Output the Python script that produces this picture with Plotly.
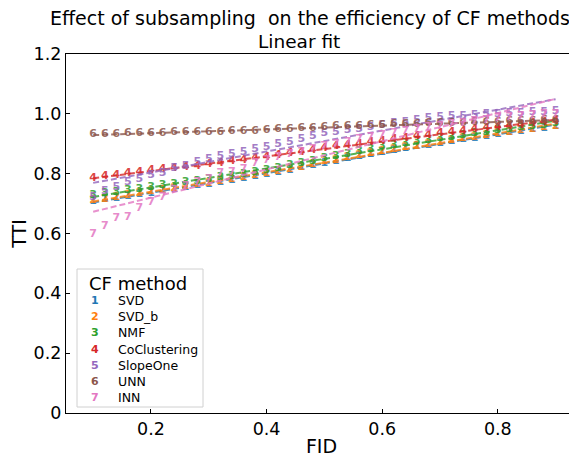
import numpy as np
import plotly.graph_objects as go

FID = [0.10, 0.12, 0.14, 0.16, 0.18, 0.20, 0.22, 0.24, 0.26, 0.28,
       0.30, 0.32, 0.34, 0.36, 0.38, 0.40, 0.42, 0.44, 0.46, 0.48,
       0.50, 0.52, 0.54, 0.56, 0.58, 0.60, 0.62, 0.64, 0.66, 0.68,
       0.70, 0.72, 0.74, 0.76, 0.78, 0.80, 0.82, 0.84, 0.86, 0.88, 0.90]

methods = ["SVD", "SVD_b", "NMF", "CoClustering", "SlopeOne", "UNN", "INN"]
digits = ["1", "2", "3", "4", "5", "6", "7"]
colors = ["#1f77b4", "#ff7f0e", "#2ca02c", "#d62728", "#9467bd", "#8c564b", "#e377c2"]

svd = [0.709, 0.713, 0.718, 0.724, 0.730, 0.736, 0.743, 0.748, 0.754, 0.760,
       0.765, 0.771, 0.777, 0.784, 0.790, 0.797, 0.805, 0.812, 0.820, 0.828,
       0.836, 0.843, 0.850, 0.857, 0.864, 0.871, 0.878, 0.884, 0.890, 0.896,
       0.902, 0.908, 0.914, 0.920, 0.926, 0.932, 0.937, 0.942, 0.947, 0.953, 0.958]
svd_b = [0.712, 0.716, 0.722, 0.727, 0.733, 0.740, 0.746, 0.751, 0.757, 0.763,
         0.768, 0.775, 0.780, 0.787, 0.794, 0.800, 0.808, 0.815, 0.823, 0.832,
         0.840, 0.846, 0.854, 0.861, 0.868, 0.875, 0.881, 0.887, 0.893, 0.899,
         0.905, 0.911, 0.917, 0.923, 0.929, 0.935, 0.940, 0.945, 0.950, 0.955, 0.960]
nmf = [0.727, 0.733, 0.738, 0.744, 0.749, 0.755, 0.760, 0.765, 0.770, 0.775,
       0.780, 0.787, 0.793, 0.799, 0.806, 0.812, 0.819, 0.827, 0.835, 0.842,
       0.850, 0.858, 0.866, 0.874, 0.882, 0.890, 0.896, 0.901, 0.907, 0.912,
       0.918, 0.923, 0.929, 0.934, 0.940, 0.945, 0.949, 0.954, 0.958, 0.963, 0.967]
coclustering = [0.785, 0.790, 0.795, 0.800, 0.805, 0.810, 0.814, 0.818, 0.822, 0.826,
                0.830, 0.835, 0.840, 0.845, 0.850, 0.855, 0.861, 0.867, 0.873, 0.879,
                0.885, 0.890, 0.895, 0.900, 0.905, 0.910, 0.915, 0.920, 0.925, 0.930,
                0.935, 0.939, 0.943, 0.947, 0.951, 0.955, 0.959, 0.963, 0.967, 0.971, 0.975]
slopeone = [0.720, 0.740, 0.754, 0.770, 0.780, 0.794, 0.800, 0.818, 0.825, 0.838,
            0.848, 0.858, 0.866, 0.873, 0.880, 0.888, 0.899, 0.906, 0.915, 0.925,
            0.935, 0.940, 0.945, 0.950, 0.956, 0.962, 0.967, 0.972, 0.978, 0.984,
            0.988, 0.991, 0.993, 0.995, 0.997, 1.000, 1.002, 1.003, 1.005, 1.006, 1.008]
unn = [0.932, 0.933, 0.933, 0.934, 0.935, 0.936, 0.936, 0.937, 0.938, 0.939,
       0.940, 0.940, 0.941, 0.942, 0.943, 0.945, 0.947, 0.949, 0.951, 0.953,
       0.955, 0.957, 0.958, 0.960, 0.961, 0.963, 0.964, 0.965, 0.966, 0.967,
       0.968, 0.969, 0.970, 0.971, 0.972, 0.973, 0.974, 0.975, 0.976, 0.977, 0.978]
inn = [0.597, 0.624, 0.652, 0.654, 0.684, 0.704, 0.720, 0.745, 0.758, 0.772,
       0.780, 0.802, 0.806, 0.815, 0.836, 0.845, 0.855, 0.866, 0.872, 0.882,
       0.890, 0.898, 0.906, 0.914, 0.922, 0.930, 0.936, 0.942, 0.948, 0.954,
       0.960, 0.965, 0.970, 0.975, 0.980, 0.985, 0.988, 0.991, 0.994, 0.997, 1.000]

series = [svd, svd_b, nmf, coclustering, slopeone, unn, inn]

yticks = [0, 0.2, 0.4, 0.6, 0.8, 1.0, 1.2]
yticktext = ["0", "0.2", "0.4", "0.6", "0.8", "1.0", "1.2"]
xticks = [0.2, 0.4, 0.6, 0.8]
xticktext = ["0.2", "0.4", "0.6", "0.8"]

# page offset (default body margin) and target plot box in page pixels
OFF = 8
W, H = 577 - OFF, 457 - OFF
PL, PR, PT, PB = 66, 577, 54, 413
L, R, T, B = PL - OFF, (OFF + W) - PR, PT - OFF, (OFF + H) - PB
FONT = "DejaVu Sans"


def px(xp):
    return (xp - PL) / (PR - PL)


def py(yp):
    return (PB - yp) / (PB - PT)


fig = go.Figure()
xs = np.array(FID)
for name, d, c, vals in zip(methods, digits, colors, series):
    fig.add_trace(go.Scatter(
        x=FID, y=vals, mode="text", text=[d] * len(FID),
        textposition="middle center",
        textfont=dict(color=c, size=11, family=FONT, weight="bold"),
        opacity=0.85, showlegend=False, name=name))
    k, b0 = np.polyfit(xs, np.array(vals), 1)
    fig.add_trace(go.Scatter(
        x=FID, y=(k * xs + b0).tolist(), mode="lines",
        line=dict(color=c, width=2, dash="6px,3px"),
        opacity=0.8, showlegend=False, hoverinfo="skip"))

annotations = [
    dict(text="Effect of subsampling\u00a0 on the efficiency of CF methods:",
         x=px(313), y=py(18), xref="paper", yref="paper",
         xanchor="center", yanchor="middle", showarrow=False,
         font=dict(size=19, family=FONT, color="black")),
    dict(text="Linear fit", x=px(299), y=py(41), xref="paper", yref="paper",
         xanchor="center", yanchor="middle", showarrow=False,
         font=dict(size=18.5, family=FONT, color="black")),
    dict(text="CF method", x=px(87), y=py(283), xref="paper", yref="paper",
         xanchor="left", yanchor="middle", showarrow=False,
         font=dict(size=18, family=FONT, color="black")),
]
for i, (name, d, c) in enumerate(zip(methods, digits, colors)):
    yy = 300.5 + i * 16.2
    annotations.append(dict(text=d, x=px(95), y=py(yy), xref="paper", yref="paper",
                            xanchor="center", yanchor="middle", showarrow=False,
                            font=dict(size=11, family=FONT, color=c, weight="bold")))
    annotations.append(dict(text=name, x=px(116), y=py(yy), xref="paper", yref="paper",
                            xanchor="left", yanchor="middle", showarrow=False,
                            font=dict(size=12.5, family=FONT, color="black")))

shapes = [dict(type="rect", xref="paper", yref="paper",
               x0=px(77), x1=px(203), y0=py(407), y1=py(269),
               line=dict(color="#d0d0d0", width=1), fillcolor="rgba(255,255,255,0.8)",
               layer="above")]

fig.update_layout(
    width=W, height=H,
    margin=dict(l=L, r=R, t=T, b=B, autoexpand=False),
    paper_bgcolor="white", plot_bgcolor="white",
    font=dict(family=FONT, color="black"),
    annotations=annotations, shapes=shapes,
    xaxis=dict(range=[0.053, 0.937], tickvals=xticks, ticktext=xticktext,
               ticks="inside", ticklen=4, tickwidth=1, tickcolor="black",
               showline=True, linecolor="black", linewidth=1.2, mirror=True,
               showgrid=False, zeroline=False, automargin=False,
               tickfont=dict(size=17.5, family=FONT, color="black"),
               title=dict(text="FID", font=dict(size=19, family=FONT, color="black"),
                          standoff=2)),
    yaxis=dict(range=[0, 1.2], tickvals=yticks, ticktext=yticktext,
               ticks="inside", ticklen=4, tickwidth=1, tickcolor="black",
               showline=True, linecolor="black", linewidth=1.2, mirror=False,
               showgrid=False, zeroline=False, automargin=False,
               tickfont=dict(size=17.5, family=FONT, color="black"),
               title=dict(text="TTI", font=dict(size=19, family=FONT, color="black"),
                          standoff=6)),
)

fig.write_html("out.html")
